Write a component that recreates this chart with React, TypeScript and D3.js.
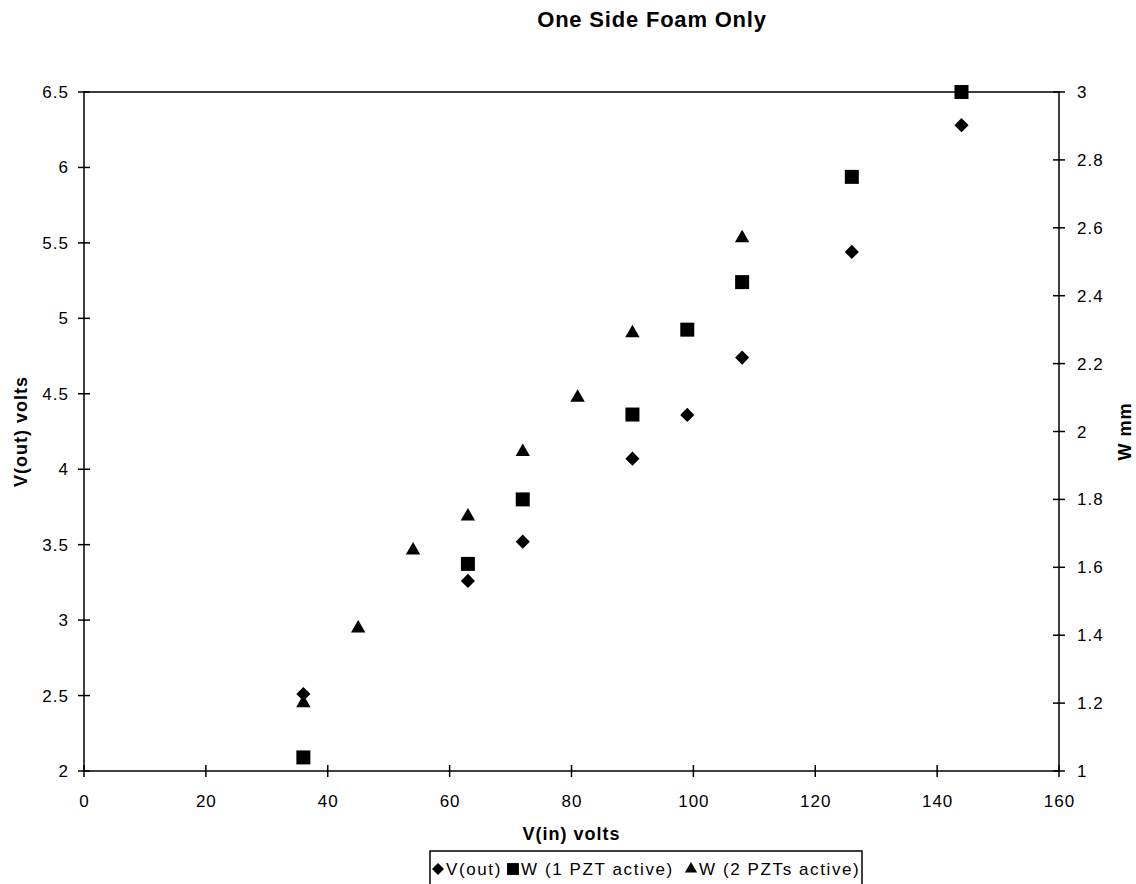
import * as d3 from "d3";
import { useEffect, useRef } from "react";

// readings
const vinVout = [36, 63, 72, 90, 99, 108, 126, 144];
const vout = [2.51, 3.26, 3.52, 4.07, 4.36, 4.74, 5.44, 6.28];
const vinW1 = [36, 63, 72, 90, 99, 108, 126, 144];
const w1 = [1.04, 1.61, 1.8, 2.05, 2.3, 2.44, 2.75, 3.0];
const vinW2 = [36, 45, 54, 63, 72, 81, 90, 108];
const w2 = [1.2, 1.42, 1.65, 1.75, 1.94, 2.1, 2.29, 2.57];

const xTicks = [0, 20, 40, 60, 80, 100, 120, 140, 160];
const leftTicks = [2, 2.5, 3, 3.5, 4, 4.5, 5, 5.5, 6, 6.5];
const rightTicks = [1, 1.2, 1.4, 1.6, 1.8, 2, 2.2, 2.4, 2.6, 2.8, 3];
const legendLabels = ["V(out)", "W (1 PZT active)", "W (2 PZTs active)"];

const FONT = "'Liberation Sans', Arial, Helvetica, sans-serif";

export default function App() {
  const svgRef = useRef(null);

  useEffect(() => {
    const svg = d3.select(svgRef.current);
    svg.selectAll("*").remove();

    const left = 84, right = 1059, top = 92, bottom = 771;
    const x = d3.scaleLinear().domain([0, 160]).range([left, right]);
    const yL = d3.scaleLinear().domain([2, 6.5]).range([bottom, top]);
    const yR = d3.scaleLinear().domain([1, 3]).range([bottom, top]);

    // frame
    svg.append("rect")
      .attr("x", left).attr("y", top)
      .attr("width", right - left).attr("height", bottom - top)
      .attr("fill", "none").attr("stroke", "#000").attr("stroke-width", 1.5);

    const tick = 6;
    const gx = svg.append("g");
    xTicks.forEach((t) => {
      gx.append("line").attr("x1", x(t)).attr("x2", x(t))
        .attr("y1", bottom - tick).attr("y2", bottom + tick)
        .attr("stroke", "#000").attr("stroke-width", 1.5);
      gx.append("text").attr("x", x(t) + 0.5).attr("y", 807)
        .attr("text-anchor", "middle").attr("font-size", 17)
        .attr("letter-spacing", 1).text(t);
    });

    const gl = svg.append("g");
    leftTicks.forEach((t) => {
      gl.append("line").attr("x1", left - tick).attr("x2", left + tick)
        .attr("y1", yL(t)).attr("y2", yL(t))
        .attr("stroke", "#000").attr("stroke-width", 1.5);
      gl.append("text").attr("x", left - 15).attr("y", yL(t) + 6)
        .attr("text-anchor", "end").attr("font-size", 17)
        .attr("letter-spacing", 1).text(t);
    });

    const gr = svg.append("g");
    rightTicks.forEach((t) => {
      gr.append("line").attr("x1", right - tick).attr("x2", right + tick)
        .attr("y1", yR(t)).attr("y2", yR(t))
        .attr("stroke", "#000").attr("stroke-width", 1.5);
      gr.append("text").attr("x", right + 18).attr("y", yR(t) + 6)
        .attr("text-anchor", "start").attr("font-size", 17)
        .attr("letter-spacing", 1).text(t);
    });

    // titles
    svg.append("text").attr("x", 652).attr("y", 27)
      .attr("text-anchor", "middle").attr("font-size", 22)
      .attr("letter-spacing", 0.8)
      .attr("font-weight", "bold").text("One Side Foam Only");
    svg.append("text").attr("x", (left + right) / 2).attr("y", 840)
      .attr("text-anchor", "middle").attr("font-size", 18)
      .attr("letter-spacing", 1)
      .attr("font-weight", "bold").text("V(in)  volts");
    svg.append("text")
      .attr("transform", `translate(27, ${(top + bottom) / 2}) rotate(-90)`)
      .attr("text-anchor", "middle").attr("font-size", 18)
      .attr("letter-spacing", 1)
      .attr("font-weight", "bold").text("V(out)  volts");
    svg.append("text")
      .attr("transform", `translate(1131, ${(top + bottom) / 2}) rotate(-90)`)
      .attr("text-anchor", "middle").attr("font-size", 18)
      .attr("letter-spacing", 1)
      .attr("font-weight", "bold").text("W mm");

    const diamond = d3.symbol(d3.symbolSquare, 100);
    const square = d3.symbol(d3.symbolSquare, 196);
    const triangle = d3.symbol(d3.symbolTriangle, 90);

    svg.append("g").selectAll("path")
      .data(d3.zip(vinVout, vout)).enter().append("path")
      .attr("d", diamond)
      .attr("transform", (d) => `translate(${x(d[0])},${yL(d[1])}) rotate(45)`)
      .attr("fill", "#000");
    svg.append("g").selectAll("path")
      .data(d3.zip(vinW1, w1)).enter().append("path")
      .attr("d", square)
      .attr("transform", (d) => `translate(${x(d[0])},${yR(d[1])})`)
      .attr("fill", "#000");
    svg.append("g").selectAll("path")
      .data(d3.zip(vinW2, w2)).enter().append("path")
      .attr("d", triangle)
      .attr("transform", (d) => `translate(${x(d[0])},${yR(d[1])})`)
      .attr("fill", "#000");

    // legend
    const lg = svg.append("g");
    lg.append("rect").attr("x", 430).attr("y", 851)
      .attr("width", 432).attr("height", 40)
      .attr("fill", "#fff").attr("stroke", "#000").attr("stroke-width", 1.5);
    const syms = [
      { sym: diamond, rot: 45, x: 438 },
      { sym: square, rot: 0, x: 513 },
      { sym: triangle, rot: 0, x: 691 },
    ];
    syms.forEach((it, i) => {
      lg.append("path").attr("d", it.sym)
        .attr("transform", `translate(${it.x},869) rotate(${it.rot}) scale(0.85)`)
        .attr("fill", "#000");
      lg.append("text").attr("x", it.x + 8).attr("y", 875)
        .attr("font-size", 17).attr("letter-spacing", 1.6).text(legendLabels[i]);
    });
  }, []);

  return (
    <div style={{ position: "absolute", left: 0, top: 0 }}>
      <svg ref={svgRef} width={1136} height={884} fontFamily={FONT} style={{ display: "block", background: "#fff" }}></svg>
    </div>
  );
}
